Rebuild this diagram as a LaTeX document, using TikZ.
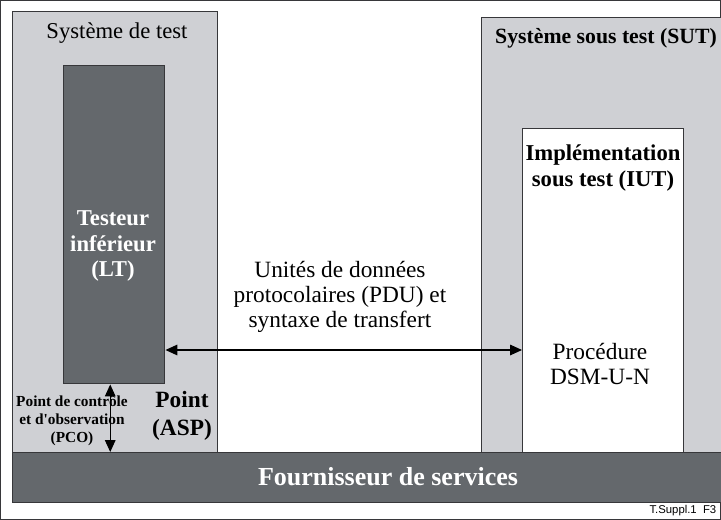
\documentclass[tikz,border=0pt]{standalone}
\usepackage{fontspec}
\setmainfont{Liberation Serif}
\newfontfamily\footfont{Liberation Sans}
\usetikzlibrary{arrows.meta,positioning}
\definecolor{boxgray}{RGB}{207,208,212}
\definecolor{darkgray}{RGB}{100,104,108}
\definecolor{edgegray}{RGB}{55,55,58}

\begin{document}
\begin{tikzpicture}[
      x=0.75pt, y=-0.75pt,
      sysbox/.style = {rectangle, draw=edgegray, line width=1.1pt, anchor=north west, inner sep=0pt},
      light/.style = {sysbox, fill=boxgray},
      dark/.style = {sysbox, fill=darkgray},
      white/.style = {sysbox, fill=white},
      lbl/.style = {align=center, font=\fontsize{17.5}{19}\selectfont},
      blbl/.style = {lbl, font=\fontsize{17}{19}\selectfont\bfseries},
      small/.style = {align=center, font=\fontsize{11.5}{13.5}\selectfont\bfseries},
      pdu/.style = {{Triangle[length=9pt,width=8pt]}-{Triangle[length=9pt,width=8pt]}, line width=0.8pt}
      ]
      \clip (0,0) rectangle (721,520);
      \fill[white] (0,0) rectangle (721,520);
      % boites (tailles en pt = px*0.75)
      \node[light, minimum width=153.75pt, minimum height=330.75pt] (test) at (12,11) {};
      \node[light, minimum width=195pt, minimum height=326.25pt] (sut) at (481,17) {};
      \node[dark, minimum width=75.75pt, minimum height=238.5pt] (lt) at (63,65) {};
      \node[white, minimum width=120.75pt, minimum height=243pt] (iut) at (522,128) {};
      \node[dark, minimum width=547.5pt, minimum height=37.5pt] (prov) at (12,452) {};
      % textes
      \node[lbl, font=\fontsize{17}{19}\selectfont] (testlbl) at (117,33) {Système de test};
      \node[blbl, font=\fontsize{16.3}{19}\selectfont\bfseries] (sutlbl) at (606,38) {Système sous test (SUT)};
      \node[blbl] (iutlbl) at (603,168) {Implémentation\\sous test (IUT)};
      \node[blbl, text=white] (ltlbl) at (113,246) {Testeur\\inférieur\\(LT)};
      \node[lbl] (pdulbl) at (340,297) {Unités de données\\protocolaires (PDU) et\\syntaxe de transfert};
      \node[lbl] (proclbl) at (600,364) {Procédure\\DSM-U-N};
      \node[small] (pcolbl) at (72,421) {Point de contrôle\\et d\textquotesingle observation\\(PCO)};
      \node[blbl, font=\fontsize{17.5}{21}\selectfont\bfseries] (asplbl) at (182,416) {Point\\(ASP)};
      \node[blbl, text=white, font=\fontsize{19.5}{21}\selectfont\bfseries] (provlbl) at (388,477) {Fournisseur de services};
      \node[anchor=east, font=\footfont\fontsize{8.5}{10}\selectfont] (ref) at (721,511) {T.Suppl.1\ \ F3};
      % fleches
      \coordinate (sap) at (0,350);
      \draw[pdu] (lt.east |- sap) -- (iut.west |- sap);
      \draw[pdu] ([xshift=-3]lt.south) -- ([xshift=-3]lt.south |- prov.north);
    \end{tikzpicture}
\end{document}
